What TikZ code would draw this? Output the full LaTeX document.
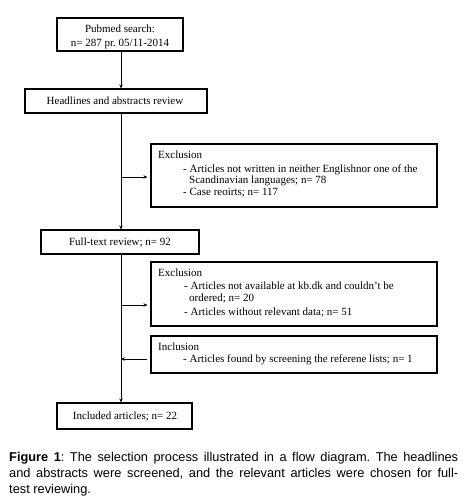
\documentclass[tikz,border=0pt]{standalone}
\usepackage{fontspec}
\setmainfont{Liberation Serif}
\newfontfamily\capfont{Liberation Sans}
\usetikzlibrary{arrows.meta}
\frenchspacing
\tikzset{
  box/.style={draw=black, line width=1.2pt, rectangle, inner sep=0pt},
  txt/.style={anchor=base west, inner sep=0pt, font=\fontsize{11}{12}\selectfont},
  ctxt/.style={anchor=base, inner sep=0pt, font=\fontsize{11}{12}\selectfont},
  arr/.style={line width=0.9pt, -{Stealth[length=4pt,width=3.5pt]}},
  captxt/.style={anchor=base west, inner sep=0pt, font=\capfont\fontsize{12.8}{16}\selectfont}
}
\begin{document}
\begin{tikzpicture}[x=1pt,y=-1pt]
\useasboundingbox (0,0) rectangle (470,497);
% boxes
\node[box, minimum width=126pt, minimum height=33pt] (pub) at (120,34.5) {};
\node[box, minimum width=182pt, minimum height=24pt] (head) at (116,101) {};
\node[box, minimum width=286pt, minimum height=63pt] (ex1) at (294,175.5) {};
\node[box, minimum width=158pt, minimum height=24pt] (full) at (120,242) {};
\node[box, minimum width=286pt, minimum height=64pt] (ex2) at (294,294) {};
\node[box, minimum width=286pt, minimum height=37pt] (inc) at (294,354.5) {};
\node[box, minimum width=135pt, minimum height=26pt] (incl) at (124.5,416) {};
% texts
\node[ctxt] (t1) at (120,32.5) {Pubmed search:};
\node[ctxt] (t2) at (120,46.5) {n= 287 pr. 05/11-2014};
\node[ctxt] (t3) at (115,104.5) {Headlines and abstracts review};
\node[txt] (e1a) at (158,158.5) {Exclusion};
\node[txt] (e1b) at (183,172.5) {- Articles not written in neither Englishnor one of the};
\node[txt] (e1c) at (189,183.5) {Scandinavian languages; n= 78};
\node[txt] (e1d) at (183,195.5) {- Case reoirts; n= 117};
\node[ctxt] (t4) at (120,245.5) {Full-text review; n= 92};
\node[txt] (e2a) at (158,276.5) {Exclusion};
\node[txt] (e2b) at (184,289.5) {- Articles not available at kb.dk and couldn't be};
\node[txt] (e2c) at (189,301.5) {ordered; n= 20};
\node[txt] (e2d) at (184,315.5) {- Articles without relevant data; n= 51};
\node[txt] (i1) at (158,350.5) {Inclusion};
\node[txt] (i2) at (183,362.5) {- Articles found by screening the referene lists; n= 1};
\node[ctxt] (t5) at (125,419.5) {Included articles; n= 22};
% caption
\node[captxt] (c1) at (9,461.5) {\hbox to 449pt{\textbf{Figure 1}: The selection process illustrated in a flow diagram. The headlines}};
\node[captxt] (c2) at (9,477.5) {\hbox to 449pt{and abstracts were screened, and the relevant articles were chosen for full-}};
\node[captxt] (c3) at (9,493.5) {test reviewing.};
% connectors
\coordinate (sp) at (121,0);
\draw[arr] (sp |- pub.south) -- (sp |- head.north);
\draw[arr] (sp |- head.south) -- (sp |- full.north);
\coordinate (b1) at (121,177);
\draw[arr, shorten >=3pt] (b1) -- (b1 -| ex1.west);
\draw[arr] (sp |- full.south) -- (sp |- incl.north);
\coordinate (b2) at (121,305);
\draw[arr, shorten >=3pt] (b2) -- (b2 -| ex2.west);
\coordinate (b3) at (121,359);
\draw[arr, shorten <=3pt] (b3 -| inc.west) -- (b3);
\end{tikzpicture}
\end{document}
